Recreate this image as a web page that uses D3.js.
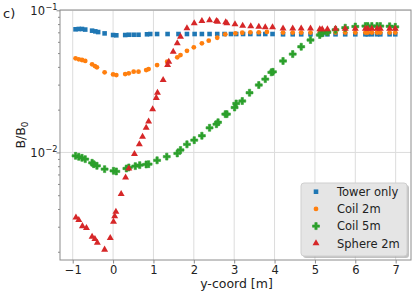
<!DOCTYPE html>
<html><head><meta charset="utf-8">
<script src="https://cdn.jsdelivr.net/npm/d3@7"></script>
<style>body{margin:0;background:#fff}svg{display:block;font-family:"DejaVu Sans",sans-serif}</style>
</head><body><svg id="c" width="415" height="293"></svg>
<script>
const seriesNames = ["Tower only", "Coil 2m", "Coil 5m", "Sphere 2m"];
const seriesColors = ["#1f77b4", "#ff7f0e", "#2ca02c", "#d62728"];
const xTicks = [-1, 0, 1, 2, 3, 4, 5, 6, 7];
const yTicks = [0.01, 0.1];
const yTickExp = ["\u22122", "\u22121"];

const tailX = [4.21,4.45,4.66,4.89,5.12,5.18,5.31,5.51,5.75,6.0,6.25,6.31,6.41,6.54,6.62,6.85,6.99];

const towerX = [-0.93,-0.85,-0.77,-0.69,-0.52,-0.44,-0.37,-0.21,0.0,0.08,0.3,0.39,0.51,0.63,0.84,0.92,1.09,1.35,1.62,1.83,2.02,2.2,2.39,2.58,2.76,2.92,3.05,3.22,3.40,3.61,3.77,3.95].concat(tailX);
const towerY = [0.0735,0.0739,0.0739,0.0732,0.0719,0.0711,0.0703,0.0688,0.0670,0.0667,0.0670,0.0673,0.0673,0.0673,0.0678,0.0681,0.0681,0.0681,0.0681,0.0681,0.0681,0.0681,0.0681,0.0681,0.0681,0.0681,0.0681,0.0681,0.0681,0.0681,0.0681,0.0681,
  0.0678,0.0678,0.0678,0.0678,0.0678,0.0678,0.0678,0.0678,0.0678,0.0678,0.0678,0.0678,0.0678,0.0678,0.0678,0.0678,0.0678];

const coil2X = [-0.93,-0.85,-0.77,-0.69,-0.52,-0.45,-0.40,-0.21,0.0,0.08,0.3,0.39,0.51,0.63,0.82,0.88,1.09,1.34,1.59,1.67,1.83,2.0,2.2,2.37,2.58,2.78,3.03,3.2,3.4,3.61,3.81].concat(tailX);
const coil2Y = [0.0459,0.0452,0.0447,0.0440,0.0417,0.0405,0.0397,0.0366,0.0354,0.0350,0.0356,0.0360,0.0370,0.0370,0.0380,0.0386,0.0412,0.0435,0.0467,0.0484,0.0519,0.0549,0.0586,0.0611,0.0641,0.0678,0.0689,0.0695,0.0700,0.0700,0.0704,
  0.0697,0.0697,0.0697,0.0697,0.0697,0.0697,0.0697,0.0697,0.0697,0.0697,0.0697,0.0697,0.0697,0.0697,0.0697,0.0697,0.0697];

const coil5X = [-0.93,-0.85,-0.77,-0.69,-0.52,-0.48,-0.40,-0.21,0.01,0.08,0.33,0.39,0.55,0.66,0.82,0.88,1.09,1.33,1.59,1.67,1.83,2.01,2.2,2.39,2.56,2.6,2.78,2.82,3.01,3.05,3.2,3.38,3.61,3.77,3.92,3.96,4.21,4.45,4.66,4.89,5.12,5.18,5.31,5.51,5.75,6.0,6.25,6.31,6.41,6.54,6.62,6.85,6.99];
const coil5Y = [0.00946,0.00931,0.00916,0.00897,0.00845,0.00827,0.00805,0.00763,0.00742,0.00735,0.00771,0.00784,0.00801,0.00814,0.00823,0.00827,0.00880,0.00934,0.00984,0.0104,0.0114,0.0122,0.0131,0.0149,0.0158,0.0163,0.0186,0.0186,0.0207,0.0221,0.0230,0.0263,0.0298,0.0328,0.0366,0.0369,0.0440,0.0492,0.0554,0.0618,0.0670,0.0689,0.0701,0.0729,0.0754,0.0769,0.0775,0.0775,0.0775,0.0775,0.0775,0.0772,0.0765];

const sphereX = [-0.92,-0.85,-0.76,-0.66,-0.52,-0.45,-0.39,-0.21,-0.07,0.01,0.04,0.07,0.2,0.31,0.39,0.53,0.65,0.73,0.82,0.88,0.98,1.07,1.1,1.24,1.35,1.38,1.49,1.59,1.67,1.83,2.01,2.2,2.39,2.56,2.59,2.79,2.82,3.02,3.21,3.41,3.61,3.77,3.95].concat(tailX);
const sphereY = [0.00348,0.00334,0.00303,0.00294,0.00255,0.00246,0.00231,0.00207,0.00250,0.00325,0.00356,0.00382,0.00509,0.00667,0.00771,0.00973,0.0114,0.0129,0.0149,0.0165,0.0201,0.0242,0.0263,0.0323,0.0412,0.0435,0.0511,0.0586,0.0652,0.0747,0.0810,0.0841,0.0851,0.0841,0.0831,0.0823,0.0810,0.0797,0.0779,0.0771,0.0767,0.0760,0.0760,
  0.0745,0.0745,0.0745,0.0745,0.0735,0.0735,0.0735,0.0742,0.0742,0.0742,0.0742,0.0742,0.0742,0.0742,0.0742,0.0742,0.0742];

const seriesXs = [towerX, coil2X, coil5X, sphereX];
const seriesYs = [towerY, coil2Y, coil5Y, sphereY];
const symbols = [
  d3.symbol().type(d3.symbolSquare).size(21),
  d3.symbol().type(d3.symbolCircle).size(18),
  d3.symbol().type(d3.symbolCross).size(27),
  d3.symbol().type(d3.symbolTriangle).size(21)
];

const L = 60, R = 411, T = 10, B = 260;
const svg = d3.select("#c");
const x = d3.scaleLinear().domain([-1.315, 7.38]).range([L, R]);
const y = d3.scaleLog().domain([0.00175, 0.1005]).range([B, T]);

// grid
const g = svg.append("g");
g.selectAll(".vg").data(xTicks).enter().append("line")
  .attr("x1", d => x(d)).attr("x2", d => x(d)).attr("y1", T).attr("y2", B)
  .attr("stroke", "#dcdcdc").attr("stroke-width", 1);
g.selectAll(".hg").data(yTicks).enter().append("line")
  .attr("x1", L).attr("x2", R).attr("y1", d => y(d)).attr("y2", d => y(d))
  .attr("stroke", "#dcdcdc").attr("stroke-width", 1);

// data
seriesXs.forEach((xs, i) => {
  svg.append("g").selectAll("path").data(xs.map((v, j) => [v, seriesYs[i][j]])).enter()
    .append("path").attr("d", symbols[i])
    .attr("transform", d => `translate(${x(d[0])},${y(d[1])})`)
    .attr("fill", seriesColors[i])
    .attr("stroke", i === 2 ? seriesColors[i] : "none").attr("stroke-width", 0.6).attr("stroke-linejoin", "round");
});

// frame
svg.append("rect").attr("x", L).attr("y", T).attr("width", R - L).attr("height", B - T)
  .attr("fill", "none").attr("stroke", "#8c8c8c").attr("stroke-width", 1);

// x axis
const xAxis = d3.axisBottom(x).tickValues(xTicks).tickSize(3.5).tickPadding(2)
  .tickFormat(d => d < 0 ? "\u2212" + Math.abs(d) : String(d));
const xa = svg.append("g").attr("transform", `translate(0,${B})`).call(xAxis);
xa.select(".domain").remove();
xa.selectAll("line").attr("stroke", "#8c8c8c");
xa.selectAll("text").attr("font-size", 11.5).attr("fill", "#222").attr("font-family", "DejaVu Sans");

// y axis minor ticks
const minor = [];
[0.001, 0.01].forEach(dec => { for (let k = 2; k <= 9; k++) { const v = k * dec; if (v >= 0.00175 && v <= 0.1) minor.push(v); } });
const yAxisMinor = d3.axisLeft(y).tickValues(minor).tickSize(2).tickFormat("");
const ym = svg.append("g").attr("transform", `translate(${L},0)`).call(yAxisMinor);
ym.select(".domain").remove();
ym.selectAll("line").attr("stroke", "#8c8c8c");

const yAxis = d3.axisLeft(y).tickValues(yTicks).tickSize(3.5).tickFormat("");
const ya = svg.append("g").attr("transform", `translate(${L},0)`).call(yAxis);
ya.select(".domain").remove();
ya.selectAll("line").attr("stroke", "#8c8c8c");

yTicks.forEach((v, i) => {
  const t = svg.append("text").attr("x", 45).attr("y", y(v) + 4.5)
    .attr("text-anchor", "end").attr("font-size", 11.5).attr("fill", "#222");
  t.append("tspan").text("10");
  svg.append("text").attr("x", 45.5).attr("y", y(v) - 0.5)
    .attr("font-size", 8.2).attr("fill", "#222").text(yTickExp[i]);
});

// labels
svg.append("text").attr("x", (L + R) / 2 + 1).attr("y", 287.5).attr("text-anchor", "middle")
  .attr("font-size", 12.5).attr("fill", "#222").text("y-coord [m]");
const yl = svg.append("text").attr("transform", `translate(25,${(T + B) / 2}) rotate(-90)`)
  .attr("text-anchor", "middle").attr("font-size", 12.5).attr("fill", "#222");
yl.append("tspan").text("B/B");
yl.append("tspan").attr("font-size", 8.8).attr("dy", 2.5).text("0");
svg.append("text").attr("x", 3).attr("y", 18).attr("font-size", 13).attr("fill", "#222").text("c)");

// legend
const lg = svg.append("g");
lg.append("rect").attr("x", 303).attr("y", 185).attr("width", 106).attr("height", 73).attr("rx", 3)
  .attr("fill", "#9a9a9a").attr("opacity", 0.6);
lg.append("rect").attr("x", 301).attr("y", 183).attr("width", 106).attr("height", 73).attr("rx", 3)
  .attr("fill", "#e5e5e5").attr("stroke", "#cfcfcf").attr("stroke-width", 1);
seriesNames.forEach((name, i) => {
  const cy = 191.7 + i * 17.2;
  lg.append("path").attr("d", symbols[i]).attr("transform", `translate(316,${cy})`).attr("fill", seriesColors[i])
    .attr("stroke", i === 2 ? seriesColors[i] : "none").attr("stroke-width", 0.6).attr("stroke-linejoin", "round");
  lg.append("text").attr("x", 337).attr("y", cy + 4.2).attr("font-size", 11.5).attr("fill", "#222").text(name);
});
</script></body></html>
